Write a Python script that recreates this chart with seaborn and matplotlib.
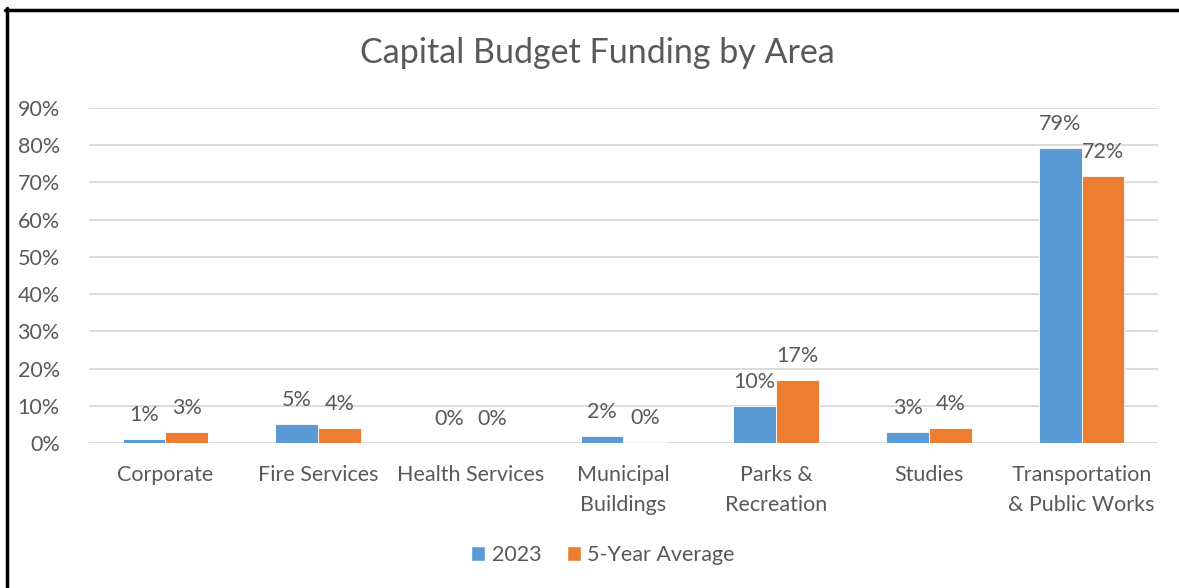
import pandas as pd
import seaborn as sns
import matplotlib.pyplot as plt
from matplotlib.lines import Line2D
from matplotlib.patches import Patch

# dados (em %)
areas = ["Corporate", "Fire Services", "Health Services", "Municipal\nBuildings",
         "Parks &\nRecreation", "Studies", "Transportation\n& Public Works"]
valores_2023 = [1.0, 5.1, 0.1, 1.9, 9.9, 3.0, 79.2]
valores_media = [3.0, 4.0, 0.1, 0.2, 16.9, 4.0, 71.7]
series = ["2023", "5-Year Average"]
cores = ["#5B9BD5", "#ED7D31"]
yticks = [0, 10, 20, 30, 40, 50, 60, 70, 80, 90]

CINZA = "#595959"
FONTE = 15.5

sns.set_style("white")
plt.rcParams['font.family'] = ['Lato', 'DejaVu Sans']

df = pd.DataFrame({
    "area": areas * 2,
    "serie": [series[0]] * len(areas) + [series[1]] * len(areas),
    "valor": valores_2023 + valores_media,
})

W, H = 1179, 588
fig = plt.figure(figsize=(W / 100, H / 100), dpi=100)
ax = fig.add_axes([89 / W, 1 - 443 / H, (1158 - 89) / W, (443 - 108) / H])

sns.barplot(data=df, x="area", y="valor", hue="serie", palette=cores,
            saturation=1, width=0.56, gap=0, ax=ax, legend=False,
            edgecolor="white", linewidth=0.6)

# rotulos de dados
for cont in ax.containers:
    rotulos = [f"{b.get_height():.0f}%" for b in cont]
    ax.bar_label(cont, labels=rotulos, padding=10, color=CINZA, fontsize=FONTE)

ax.set_ylim(0, 90)
ax.set_xlim(-0.5, len(areas) - 0.5)
ax.set_yticks(yticks)
ax.set_yticklabels([f"{v}%" for v in yticks])
ax.grid(axis="y", color="#D9D9D9", linewidth=1.3)
ax.set_axisbelow(True)
for s in ax.spines.values():
    s.set_visible(False)
ax.tick_params(axis="both", length=0, colors=CINZA, labelsize=FONTE)
ax.tick_params(axis="y", pad=21)
ax.tick_params(axis="x", pad=16)
for t in ax.get_xticklabels():
    t.set_linespacing(1.6)
ax.set_xlabel("")
ax.set_ylabel("")

fig.text(597 / W, 1 - 53 / H, "Capital Budget Funding by Area", ha="center",
         va="center", fontsize=24.5, color=CINZA)

handles = [Patch(facecolor=c, label=s) for c, s in zip(cores, series)]
fig.legend(handles=handles, loc="center", bbox_to_anchor=(603 / W, 1 - 555 / H),
           ncol=2, frameon=False, fontsize=FONTE, labelcolor=CINZA,
           handlelength=0.65, handleheight=0.65, handletextpad=0.3,
           columnspacing=1.2)

# moldura (apenas topo e esquerda visiveis)
fig.add_artist(Line2D([5 / W, 1], [1 - 9.5 / H, 1 - 9.5 / H], color="black",
                      linewidth=2.5, transform=fig.transFigure))
fig.add_artist(Line2D([6.5 / W, 6.5 / W], [0, 1 - 8 / H], color="black",
                      linewidth=2.5, transform=fig.transFigure))

fig.savefig("out.png", dpi=100, facecolor="white")
